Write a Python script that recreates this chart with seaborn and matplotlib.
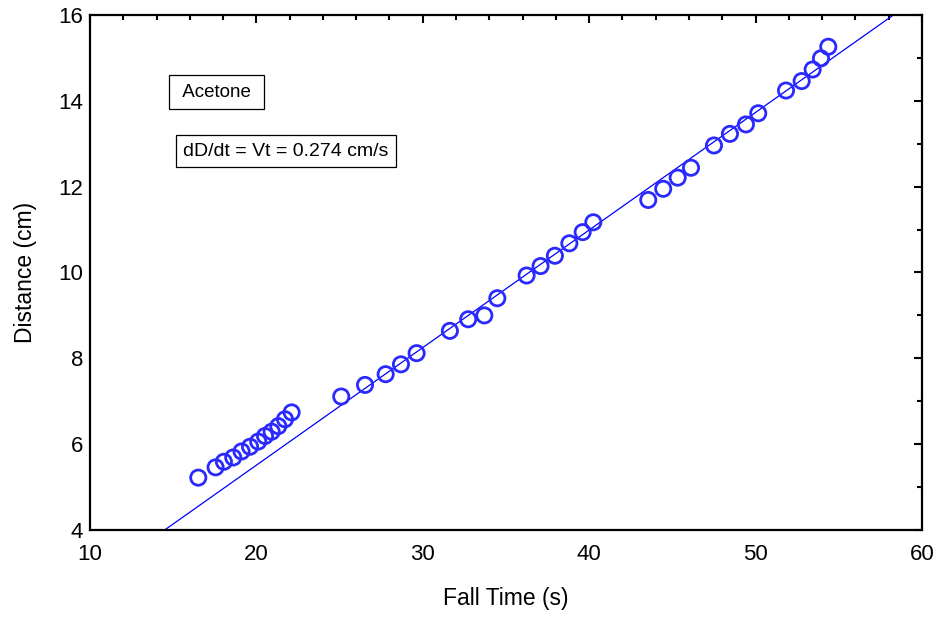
import numpy as np
import pandas as pd
import seaborn as sns
import matplotlib.pyplot as plt
from matplotlib.ticker import MultipleLocator

# measured fall times (s) and distances (cm)
fall_time = [16.51, 17.55, 18.05, 18.61, 19.11, 19.62, 20.11, 20.52, 20.92, 21.32, 21.72, 22.12,
             25.10, 26.53, 27.77, 28.69, 29.63, 31.63, 32.73, 33.70, 34.48, 36.24, 37.08, 37.94,
             38.81, 39.61, 40.25, 43.55, 44.45, 45.32, 46.12, 47.50, 48.46, 49.42, 50.16,
             51.83, 52.77, 53.43, 53.93, 54.37]
distance = [5.22, 5.46, 5.59, 5.69, 5.83, 5.94, 6.06, 6.19, 6.29, 6.42, 6.58, 6.74,
            7.11, 7.38, 7.63, 7.86, 8.12, 8.64, 8.91, 9.00, 9.40, 9.93, 10.15, 10.39,
            10.68, 10.94, 11.17, 11.69, 11.95, 12.21, 12.44, 12.96, 13.23, 13.45, 13.71,
            14.24, 14.46, 14.73, 14.99, 15.26]

fit_slope = 0.274
fit_intercept = 0.03
material = "Acetone"

df = pd.DataFrame({"Fall Time (s)": fall_time, "Distance (cm)": distance})

sns.set_style("white")
plt.rcParams['font.family'] = ['Liberation Sans', 'DejaVu Sans']
plt.rcParams['text.color'] = 'black'
plt.rcParams['axes.labelcolor'] = 'black'
plt.rcParams['xtick.color'] = 'black'
plt.rcParams['ytick.color'] = 'black'

fig = plt.figure(figsize=(9.43, 6.19), dpi=100)
ax = fig.add_axes([0.0954, 0.1438, 0.8823, 0.832])

ax.axline((0, fit_intercept), slope=fit_slope, color="#0000ff", lw=0.9, zorder=2)
sns.scatterplot(data=df, x="Fall Time (s)", y="Distance (cm)", ax=ax,
                marker="o", s=120, facecolor="none", edgecolor="#2a2aff",
                linewidth=2.0, zorder=3)

ax.set_xlim(10, 60)
ax.set_ylim(4, 16)
ax.xaxis.set_major_locator(MultipleLocator(10))
ax.xaxis.set_minor_locator(MultipleLocator(2))
ax.yaxis.set_major_locator(MultipleLocator(2))
ax.yaxis.set_minor_locator(MultipleLocator(1))
ax.tick_params(which="both", direction="in", top=True, right=True)
ax.tick_params(which="major", length=6, width=1.5, labelsize=16)
ax.tick_params(axis="x", which="major", pad=10)
ax.tick_params(axis="y", which="major", pad=5)
ax.tick_params(which="minor", length=3.5, width=1.5)
for sp in ax.spines.values():
    sp.set_color("black")
    sp.set_linewidth(1.6)

ax.set_xlabel("Fall Time (s)", fontsize=16.5, labelpad=16)
ax.set_ylabel("Distance (cm)", fontsize=16.5, labelpad=15)

box = dict(boxstyle="square,pad=0.45", facecolor="white", edgecolor="black", linewidth=0.9)
ax.text(17.63, 14.2, " " + material + " ", fontsize=13.5, ha="center", va="center", bbox=box)
box2 = dict(boxstyle="square,pad=0.4", facecolor="white", edgecolor="black", linewidth=0.9)
ax.text(21.78, 12.83, "dD/dt = Vt = %.3f cm/s" % fit_slope, fontsize=14,
        ha="center", va="center", bbox=box2)

fig.savefig("out.png", dpi=100)
